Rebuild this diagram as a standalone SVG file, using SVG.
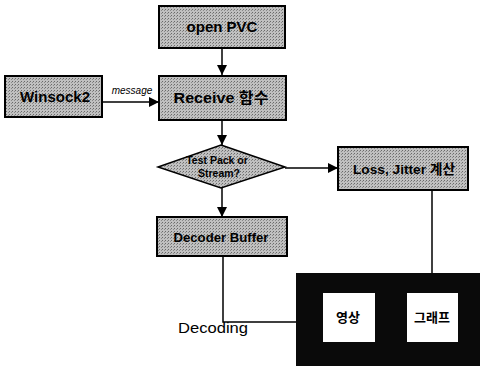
<svg xmlns="http://www.w3.org/2000/svg" width="480" height="366" viewBox="0 0 480 366">
<defs>
<pattern id="ht" width="3" height="3" patternUnits="userSpaceOnUse">
<rect width="3" height="3" fill="#c0c0c0"/>
<rect width="1" height="1" fill="#6a6a6a"/>
<rect x="2" y="1" width="1" height="1" fill="#8a8a8a"/>
</pattern>
<marker id="arr" viewBox="0 0 10 10" refX="10" refY="5" markerWidth="10" markerHeight="10" markerUnits="userSpaceOnUse" orient="auto">
<path d="M0,0 L10,5 L0,10 z" fill="#000"/>
</marker>
</defs>
<style>
.box{fill:url(#ht);stroke:#000;stroke-width:2}
.lbl{font-family:"Liberation Sans","Noto Sans CJK KR",Arial,sans-serif;font-weight:bold;font-size:14px;fill:#000;text-anchor:middle}
.con{fill:none;stroke:#000;stroke-width:1.5}
</style>
<rect width="480" height="366" fill="#fff"/>
<g id="connectors">
<line class="con" x1="222" y1="49" x2="222" y2="75" marker-end="url(#arr)"/>
<line class="con" x1="102" y1="102" x2="159" y2="102" marker-end="url(#arr)"/>
<text x="132" y="94" font-family="Liberation Sans,Arial,sans-serif" font-style="italic" font-size="10" text-anchor="middle">message</text>
<line class="con" x1="222" y1="121" x2="222" y2="145" marker-end="url(#arr)"/>
<line class="con" x1="285" y1="168" x2="338" y2="168" marker-end="url(#arr)"/>
<line class="con" x1="222" y1="188" x2="222" y2="217" marker-end="url(#arr)"/>
<polyline class="con" points="223,256 223,322 296,322"/>
<line class="con" x1="432" y1="190" x2="432" y2="273"/>
</g>
<g id="open-pvc">
<rect class="box" x="159" y="6" width="126" height="42"/>
<text class="lbl" x="222" y="32" style="font-size:15px">open PVC</text>
</g>
<g id="winsock2">
<rect class="box" x="5" y="76" width="97" height="41"/>
<text class="lbl" x="55" y="102" style="font-size:15px" textLength="70" lengthAdjust="spacingAndGlyphs">Winsock2</text>
</g>
<g id="receive">
<rect class="box" x="159" y="76" width="127" height="44"/>
<text class="lbl" x="221" y="103" style="font-size:15px" textLength="95" lengthAdjust="spacingAndGlyphs">Receive 함수</text>
</g>
<g id="decision">
<polygon points="221,145 285,167 221,188 158,167" fill="url(#ht)" stroke="#000" stroke-width="1.5"/>
<text class="lbl" x="217" y="164" style="font-size:10.5px">Test Pack or</text>
<text class="lbl" x="219" y="177" style="font-size:10.5px">Stream?</text>
</g>
<g id="loss-jitter">
<rect class="box" x="338" y="147" width="130" height="43"/>
<text class="lbl" x="404" y="174" style="font-size:13.5px" textLength="102" lengthAdjust="spacingAndGlyphs">Loss, Jitter 계산</text>
</g>
<g id="decoder-buffer">
<rect class="box" x="157" y="217" width="130" height="39"/>
<text class="lbl" x="221" y="242" style="font-size:13.5px" textLength="95" lengthAdjust="spacingAndGlyphs">Decoder Buffer</text>
</g>
<g id="decoding">
<text x="178" y="333" font-family="Liberation Sans,Arial,sans-serif" font-size="15" fill="#000" textLength="70" lengthAdjust="spacingAndGlyphs">Decoding</text>
</g>
<g id="display">
<rect x="296" y="273" width="184" height="93" fill="#0a0a0a"/>
<rect x="323" y="293" width="52" height="49" fill="#fff"/>
<rect x="407" y="293" width="51" height="49" fill="#fff"/>
<text class="lbl" x="348" y="322" style="font-size:13px">영상</text>
<text class="lbl" x="432" y="322" style="font-size:13px">그래프</text>
</g>
</svg>
